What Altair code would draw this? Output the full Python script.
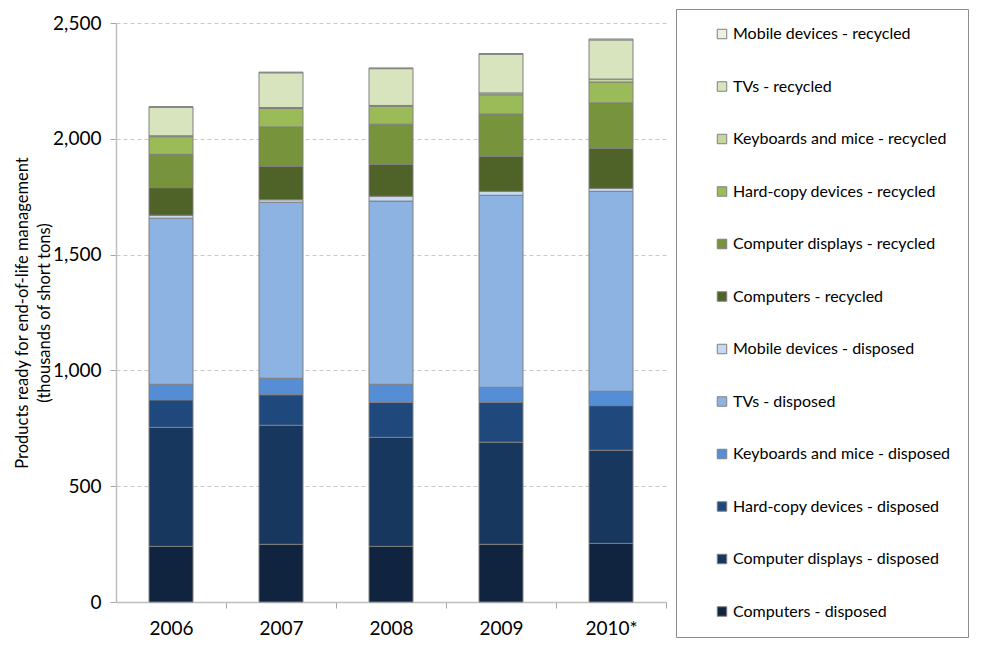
import altair as alt
import pandas as pd

years = ["2006", "2007", "2008", "2009", "2010*"]

series = [
    "Computers - disposed",
    "Computer displays - disposed",
    "Hard-copy devices - disposed",
    "Keyboards and mice - disposed",
    "TVs - disposed",
    "Mobile devices - disposed",
    "Computers - recycled",
    "Computer displays - recycled",
    "Hard-copy devices - recycled",
    "Keyboards and mice - recycled",
    "TVs - recycled",
    "Mobile devices - recycled",
]

computers_disposed = [240, 249, 240, 249, 253]
displays_disposed = [514, 514, 471, 441, 402]
hardcopy_disposed = [119, 132, 151, 172, 193]
keyboards_disposed = [67, 71, 78, 65, 62]
tvs_disposed = [717, 760, 791, 829, 863]
mobile_disposed = [13, 11, 21, 17, 13]
computers_recycled = [119, 144, 138, 151, 173]
displays_recycled = [144, 170, 173, 183, 196]
hardcopy_recycled = [76, 80, 77, 83, 90]
keyboards_recycled = [4, 4, 4, 8, 13]
tvs_recycled = [123, 150, 159, 167, 169]
mobile_recycled = [3, 3, 3, 3, 4]

values = [
    computers_disposed, displays_disposed, hardcopy_disposed, keyboards_disposed,
    tvs_disposed, mobile_disposed, computers_recycled, displays_recycled,
    hardcopy_recycled, keyboards_recycled, tvs_recycled, mobile_recycled,
]

colors = [
    "#11243f", "#17375e", "#1f497d", "#558ed5", "#8db3e2", "#c6d9f1",
    "#4f6228", "#77933c", "#9bbb59", "#c3d69b", "#d7e4bd", "#ebf1de",
]

rows = []
for i, (name, vals) in enumerate(zip(series, values)):
    for y, v in zip(years, vals):
        rows.append({"year": y, "series": name, "order": i, "value": v})
df = pd.DataFrame(rows)

FONT = "Lato"

chart = alt.Chart(df).mark_bar(stroke="#808080", strokeWidth=1).encode(
    x=alt.X("year:N", sort=years, title=None,
            scale=alt.Scale(paddingInner=0.6, paddingOuter=0.3),
            axis=alt.Axis(labelAngle=0, labelFontSize=19, labelFont=FONT,
                          labelColor="#000000", labelPadding=11,
                          domainColor="#bfbfbf", domainWidth=1.5,
                          tickColor="#a6a6a6", tickSize=6,
                          bandPosition=1, tickOffset=33, labelOffset=-33)),
    y=alt.Y("value:Q", stack="zero",
            title=["Products ready for end-of-life management", "(thousands of short tons)"],
            scale=alt.Scale(domain=[0, 2500], nice=False),
            axis=alt.Axis(values=[0, 500, 1000, 1500, 2000, 2500], format=",.0f",
                          labelFontSize=19, labelFont=FONT, labelColor="#000000",
                          labelPadding=9, tickSize=6, tickColor="#a6a6a6",
                          domainColor="#bfbfbf", domainWidth=1.5,
                          grid=True, gridColor="#c8c8c8", gridDash=[4, 3], gridWidth=1,
                          titleFont=FONT, titleFontSize=16.5, titleFontWeight="normal",
                          titleColor="#000000", titleLineHeight=22, titlePadding=0)),
    color=alt.Color("series:N",
                    scale=alt.Scale(domain=series[::-1], range=colors[::-1]),
                    legend=alt.Legend(title=None, orient="none", legendX=560, legendY=-14,
                                      symbolType="square", symbolSize=90,
                                      symbolStrokeColor="#808080", symbolStrokeWidth=1,
                                      labelFont=FONT, labelFontSize=16, labelColor="#000000",
                                      labelOffset=3, rowPadding=36.5, padding=17,
                                      symbolOffset=21, strokeColor="#8c8c8c",
                                      labelLimit=400)),
    order=alt.Order("order:Q", sort="ascending"),
).properties(
    width=550, height=579,
    autosize=alt.AutoSizeParams(type="none"),
    padding={"left": 108, "top": 15, "right": 313, "bottom": 36},
).configure_view(stroke=None).configure_axis(grid=False).configure_axisY(grid=True)

chart.save("out.html", embed_options={"renderer": "svg", "actions": False})
